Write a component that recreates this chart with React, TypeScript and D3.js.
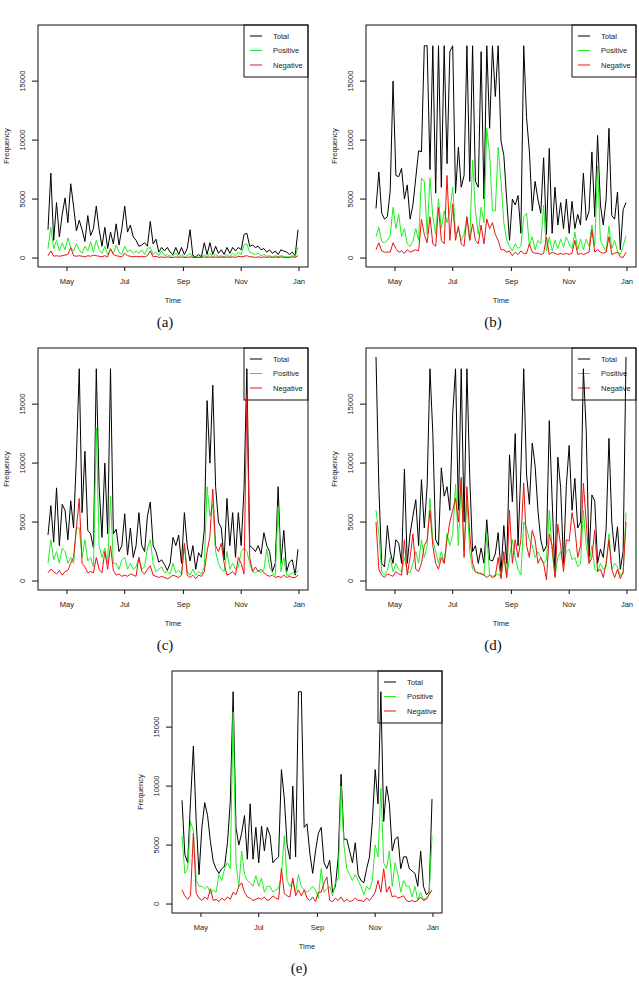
import React from 'react';
import * as d3 from 'd3';

// Daily series sampled every 3 days, 11 Apr - 31 Dec
const startDate = new Date(2013, 3, 11);
const stepDays = 3;

const totalA = [
  2400, 7200, 1500, 4700, 1800, 3700, 5100, 3000, 6300, 4400,
  2300, 3200, 2400, 1400, 3600, 1900, 2500, 4400, 2400, 1000,
  2600, 800, 2200, 1200, 2900, 1100, 2500, 4400, 2200, 2800,
  1800, 1500, 1000, 1100, 1300, 1000, 3100, 1200, 1600, 500,
  900, 600, 900, 500, 300, 900, 300, 900, 300, 800,
  2400, 200, 100, 300, 100, 1300, 300, 1300, 300, 1000,
  400, 700, 300, 900, 400, 900, 600, 900, 700, 2000,
  2100, 1000, 1100, 900, 1000, 700, 800, 500, 700, 400,
  600, 300, 700, 600, 500, 300, 500, 200, 2400,
];
const positiveA = [
  800, 2600, 800, 1500, 600, 1300, 700, 1700, 900, 600,
  1200, 700, 400, 1000, 600, 1400, 500, 1500, 700, 400,
  1000, 300, 700, 400, 1100, 500, 300, 1000, 500, 700,
  400, 600, 400, 700, 300, 800, 900, 300, 500, 200,
  600, 200, 300, 150, 200, 400, 100, 300, 100, 200,
  400, 50, 50, 100, 50, 300, 100, 400, 100, 300,
  100, 200, 100, 300, 100, 400, 200, 500, 300, 1100,
  1200, 500, 400, 300, 400, 200, 300, 150, 200, 100,
  200, 100, 200, 150, 100, 100, 200, 100, 900,
];
const negativeA = [
  200, 600, 150, 200, 150, 200, 250, 300, 900, 200,
  150, 200, 150, 100, 200, 150, 250, 200, 150, 100,
  200, 100, 800, 300, 200, 150, 100, 400, 200, 150,
  100, 150, 100, 150, 100, 200, 600, 100, 150, 50,
  100, 50, 100, 50, 50, 100, 50, 100, 50, 50,
  100, 50, 50, 50, 50, 100, 50, 100, 50, 100,
  50, 100, 50, 100, 50, 100, 50, 150, 100, 150,
  200, 100, 100, 50, 100, 50, 100, 50, 100, 50,
  100, 50, 100, 50, 50, 50, 100, 50, 200,
];

const totalB = [
  4200, 7300, 3800, 3300, 3500, 5700, 15000, 7000, 6900, 7600,
  5000, 6200, 3300, 4500, 6800, 9100, 9000, 18000, 18000, 7500,
  18000, 5500, 18000, 6000, 18000, 8000, 17500, 18000, 5500, 9400,
  6000, 7000, 18000, 6500, 18000, 6500, 6000, 17500, 5000, 18000,
  11000, 18000, 13700, 18000, 9900, 8700, 5000, 1500, 5000, 4500,
  5300, 2100, 18000, 11900, 9000, 4000, 6500, 5000, 3800, 8500,
  2000, 9300, 2100, 6000, 2800, 4700, 2500, 5000, 2100, 4800,
  2500, 3700, 2800, 7200, 3200, 4000, 9000, 3500, 10400, 4500,
  2800, 5000, 11000, 3600, 3300, 5600, 700, 4100, 4700,
];
const positiveB = [
  1800, 2600, 1400, 1300, 1500, 1900, 4300, 2500, 3700, 1800,
  2500, 1200, 1000, 1400, 2500, 1500, 6800, 6500, 2000, 6800,
  3500, 2000, 5000, 2500, 4000, 3000, 4000, 6000, 2000, 2500,
  1500, 2000, 3500, 1500, 8300, 4000, 2000, 4300, 3000, 11000,
  8800, 4000, 4000, 9400, 6500, 3000, 1500, 1000, 600, 1200,
  800, 1000, 3500, 3800, 1000, 1800, 700, 1500, 1200, 4500,
  600, 1800, 600, 1500, 800, 1600, 900, 1800, 1200, 800,
  2200, 700, 1600, 700, 1600, 1000, 2800, 1000, 7800, 1500,
  1000, 600, 2700, 800, 1500, 600, 300, 1000, 1900,
];
const negativeB = [
  700, 1300, 600, 500, 500, 500, 1300, 800, 500, 600,
  400, 700, 500, 600, 700, 600, 3300, 2000, 1300, 3500,
  1200, 1000, 4300, 1500, 1200, 7000, 1500, 4600, 1500, 2700,
  1200, 1000, 3500, 1500, 2900, 1500, 1200, 2800, 1200, 3300,
  2500, 3000, 2000, 1500, 700, 700, 500, 600, 200, 500,
  300, 600, 400, 400, 1200, 500, 400, 400, 300, 400,
  1800, 300, 500, 400, 300, 400, 300, 400, 300, 400,
  1500, 300, 400, 300, 400, 500, 2400, 500, 700, 500,
  400, 500, 1800, 300, 400, 500, 100, 50, 500,
];

const totalC = [
  3900, 6400, 3300, 7900, 3000, 6500, 6000, 3500, 6800, 4500,
  10500, 18000, 5800, 11000, 4300, 4000, 2800, 18000, 8000, 3700,
  10000, 4000, 18000, 4000, 4400, 2500, 3000, 5700, 2200, 4500,
  2000, 3000, 5800, 3000, 2500, 5500, 6700, 3000, 2500, 1600,
  1800, 1400, 900, 1500, 3700, 3000, 3900, 1500, 5800, 3000,
  1700, 3000, 1000, 2400, 2000, 4300, 15300, 10000, 16600, 8000,
  5000, 4500, 1800, 7000, 3000, 5800, 2000, 5800, 3000, 7800,
  18000, 3000, 2800, 2500, 3000, 2300, 4100, 3000, 2500, 800,
  1500, 8000, 1500, 4300, 800, 1600, 1800, 500, 2700,
];
const positiveC = [
  1500, 3500, 1800, 2500, 1500, 2800, 2500, 1500, 2000, 1500,
  4500, 4500, 2000, 3500, 1700, 2000, 1200, 13000, 3000, 2000,
  2800, 1500, 7200, 1500, 1500, 1000, 1800, 2000, 1000, 1500,
  1000, 1200, 2000, 1000, 1200, 2800, 3500, 1500, 800, 1000,
  1200, 700, 800, 600, 1500, 700, 900, 600, 3000, 800,
  500, 1000, 500, 800, 600, 1200, 8000, 5500, 6500, 2500,
  1500, 1000, 800, 2500, 1000, 1500, 1000, 1200, 2500, 2800,
  2500, 1500, 800, 700, 900, 700, 1000, 2700, 1200, 700,
  500, 6300, 800, 2000, 500, 500, 700, 600, 900,
];
const negativeC = [
  700, 1000, 800, 600, 900, 500, 800, 900, 1500, 2000,
  4500, 7000, 1500, 1200, 700, 800, 700, 2000, 1000, 700,
  2500, 1000, 3000, 900, 500, 600, 400, 500, 400, 600,
  500, 400, 2000, 800, 600, 1000, 1300, 500, 400, 300,
  400, 300, 200, 300, 500, 400, 300, 500, 3200, 500,
  300, 500, 200, 500, 400, 800, 2500, 3800, 7800, 3000,
  2500, 3200, 1500, 500, 600, 800, 500, 2000, 1500, 600,
  15800, 2000, 800, 1200, 800, 1000, 700, 500, 400, 500,
  300, 400, 300, 500, 300, 400, 300, 300, 500,
];

const totalD = [
  19000, 8000, 1500, 1200, 4700, 2500, 1500, 3500, 3200, 1500,
  9500, 1500, 4000, 5500, 6900, 3000, 8600, 4500, 8100, 18000,
  12500, 3500, 3000, 9600, 7200, 8000, 6000, 14200, 18000, 6000,
  18000, 5000, 18000, 8800, 2500, 3000, 1500, 2800, 1500, 5200,
  1800, 1700, 2300, 4100, 800, 4700, 1500, 10700, 6700, 12500,
  3000, 9500, 18000, 9000, 6500, 11700, 9800, 6000, 3500, 2500,
  3000, 13600, 6900, 500, 10500, 7900, 1500, 8100, 11500, 6000,
  8700, 4500, 5000, 18000, 12700, 2000, 7300, 6800, 1500, 2700,
  2000, 4400, 12100, 5000, 2500, 4600, 1000, 2500, 19000,
];
const positiveD = [
  6000, 4000, 800, 500, 900, 2000, 800, 1500, 1000, 800,
  2000, 800, 700, 1500, 2500, 1500, 3500, 2000, 3000, 7000,
  3500, 2500, 1500, 2500, 1500, 4000, 3000, 4000, 8200, 3000,
  8500, 2500, 7000, 2500, 1000, 800, 600, 700, 500, 4000,
  500, 400, 500, 600, 300, 2000, 300, 2000, 3500, 2000,
  1000, 500, 5000, 4500, 3500, 3000, 2000, 2500, 2000, 1500,
  1800, 6000, 2500, 400, 2000, 2500, 1200, 2500, 2700, 1800,
  2000, 1200, 1500, 6000, 3000, 1500, 3000, 1000, 800, 1500,
  1000, 1200, 4000, 1000, 1500, 1200, 500, 600, 5800,
];
const negativeD = [
  5000, 1000, 500, 300, 600, 500, 400, 800, 600, 500,
  3500, 500, 2000, 4000, 1000, 800, 1500, 3000, 3500, 6000,
  3000, 1500, 1000, 2000, 1500, 3500, 5000, 6000, 7000, 5000,
  8800, 2000, 8000, 4000, 1500, 800, 700, 600, 500, 300,
  500, 300, 400, 2000, 200, 2500, 300, 6000, 1500, 3500,
  2000, 3500, 8300, 3000, 2000, 4300, 3500, 1500, 2000, 1500,
  100, 4000, 3000, 300, 4800, 3000, 800, 3500, 3400, 5800,
  4500, 2000, 3000, 8300, 5000, 1500, 2000, 4300, 800, 1000,
  300, 1500, 3500, 1000, 300, 1000, 200, 800, 5000,
];

const totalE = [
  8800, 4200, 3500, 8700, 13400, 7000, 2500, 6500, 8600, 7500,
  5300, 3600, 3000, 2600, 3000, 3200, 5200, 8700, 18000, 6500,
  5000, 6000, 7500, 3800, 8500, 3800, 6500, 3500, 6600, 4500,
  6500, 5800, 3500, 3800, 4000, 11400, 9000, 5000, 3800, 10000,
  4000, 18000, 18000, 6500, 6800, 4300, 2600, 4500, 6000, 6500,
  3500, 3000, 3700, 1000, 1500, 4000, 11000, 5500, 5500, 4500,
  3500, 5200, 2500, 2000, 1800, 3000, 4000, 7000, 11400, 8500,
  18000, 7000, 10000, 8500, 4500, 5500, 5700, 3000, 4000, 4000,
  3000, 2800, 2600, 1500, 4500, 1500, 800, 1000, 8900,
];
const positiveE = [
  5800, 2600, 3000, 7000, 6200, 2000, 1500, 1500, 1300, 1500,
  900, 1200, 1000, 2500, 2000, 3000, 3500, 3000, 16300, 3500,
  1500, 4500, 2500, 2000, 1800, 1500, 2400, 1500, 2200, 1000,
  1500, 1500, 1000, 1200, 1300, 2500, 5800, 2000, 1500, 2000,
  1000, 2500, 1500, 1200, 1000, 1200, 1500, 1200, 500, 3000,
  1000, 1300, 1500, 700, 1800, 2200, 10000, 5000, 3000, 2500,
  2000, 2500, 2000, 1500, 800, 1500, 1200, 2000, 5000, 4000,
  9800, 3500, 3000, 4500, 1500, 3500, 2500, 1000, 2000, 1500,
  1500, 600, 1500, 300, 1000, 400, 500, 800, 5800,
];
const negativeE = [
  1200, 700, 400, 700, 6000, 900, 500, 300, 600, 400,
  1300, 300, 400, 200, 500, 300, 600, 400, 1000, 800,
  1500, 1800, 1000, 600, 500, 300, 400, 500, 400, 600,
  300, 400, 700, 500, 400, 3000, 900, 700, 600, 2200,
  700, 1200, 700, 1200, 500, 300, 600, 200, 1000, 1000,
  1800, 2300, 300, 200, 500, 300, 600, 200, 400, 200,
  300, 500, 300, 300, 200, 500, 300, 600, 1000, 2000,
  1000, 3000, 1000, 1500, 600, 700, 500, 600, 700, 300,
  200, 300, 200, 300, 600, 300, 400, 800, 1200,
];

const yTicks = [0, 5000, 10000, 15000];
const xTicks = [
  new Date(2013, 4, 1),
  new Date(2013, 6, 1),
  new Date(2013, 8, 1),
  new Date(2013, 10, 1),
  new Date(2014, 0, 1),
];
const seriesNames = ['Total', 'Positive', 'Negative'];
const seriesColors = ['#000000', '#22ee22', '#ee1111'];

const panels = [
  { label: '(a)', left: 38, top: 25, series: [totalA, positiveA, negativeA] },
  { label: '(b)', left: 366, top: 25, series: [totalB, positiveB, negativeB] },
  { label: '(c)', left: 38, top: 348, series: [totalC, positiveC, negativeC] },
  { label: '(d)', left: 366, top: 348, series: [totalD, positiveD, negativeD] },
  { label: '(e)', left: 172, top: 671, series: [totalE, positiveE, negativeE] },
];

const W = 270;
const H = 242;
const axisFont = '"Liberation Sans", Arial, Helvetica, sans-serif';

const dates = d3.range(totalA.length).map(i => d3.timeDay.offset(startDate, i * stepDays));

// R-style 4% padding on both axes
const t0 = +dates[0];
const t1 = +dates[dates.length - 1];
const xPad = (t1 - t0) * 0.04;
const x = d3.scaleTime()
  .domain([new Date(t0 - xPad), new Date(t1 + xPad)])
  .range([0, W]);

const yMax = 19000;
const y = d3.scaleLinear()
  .domain([-yMax * 0.04, yMax * 1.04])
  .range([H, 0]);

const monthFmt = d3.timeFormat('%b');

const Panel = ({ panel, idx }) => {
  const line = d3.line<number>()
    .x((_, i) => x(dates[i]))
    .y(d => y(d));
  const clipId = `clip-${idx}`;
  return (
    <g transform={`translate(${panel.left},${panel.top})`}>
      <defs>
        <clipPath id={clipId}>
          <rect x={0} y={0} width={W} height={H} />
        </clipPath>
      </defs>

      {/* legend first, transparent box, so the lines run over it */}
      <g transform={`translate(${W - 64},0)`}>
        <rect x={0} y={0} width={64} height={52} fill="none" stroke="#111" strokeWidth={1} />
        {seriesNames.map((name, i) => (
          <g key={name} transform={`translate(0,${11 + i * 14.5})`}>
            <line x1={6} x2={18} stroke={seriesColors[i]} strokeWidth={1} />
            <text x={29} dy="0.35em" fontSize={7.5} fontFamily={axisFont} fill="#222">{name}</text>
          </g>
        ))}
      </g>

      <g clipPath={`url(#${clipId})`}>
        {panel.series.map((s, i) => (
          <path key={i} d={line(s)} fill="none" stroke={seriesColors[i]}
            strokeWidth={1} strokeLinejoin="round" />
        ))}
      </g>
      <rect x={0} y={0} width={W} height={H} fill="none" stroke="#111" strokeWidth={1} />

      {/* x axis */}
      {xTicks.map((t, i) => (
        <g key={i} transform={`translate(${x(t)},${H})`}>
          <line y1={0} y2={4} stroke="#111" />
          <text y={17} textAnchor="middle" fontSize={7.5} fontFamily={axisFont} fill="#222">
            {monthFmt(t)}
          </text>
        </g>
      ))}
      <text x={W / 2} y={H + 36} textAnchor="middle" fontSize={7.5} fontFamily={axisFont} fill="#222">
        Time
      </text>

      {/* y axis */}
      {yTicks.map((v, i) => (
        <g key={i} transform={`translate(0,${y(v)})`}>
          <line x1={0} x2={-6} stroke="#111" />
          <text transform="translate(-13,0) rotate(-90)" textAnchor="middle" fontSize={7.5}
            fontFamily={axisFont} fill="#222">
            {v}
          </text>
        </g>
      ))}
      <text transform={`translate(-29,${H / 2}) rotate(-90)`} textAnchor="middle" fontSize={7.5}
        fontFamily={axisFont} fill="#222">
        Frequency
      </text>

      <text x={127} y={302} textAnchor="middle" fontSize={15}
        fontFamily='"Liberation Serif", "DejaVu Serif", serif' fill="#111">
        {panel.label}
      </text>
    </g>
  );
};

export default function App() {
  return (
    <svg width={639} height={995} viewBox="0 0 639 995"
      style={{ position: 'absolute', left: 0, top: 0, background: '#fff' }}>
      <rect width={639} height={995} fill="#fff" />
      {panels.map((p, i) => <Panel key={p.label} panel={p} idx={i} />)}
    </svg>
  );
}
